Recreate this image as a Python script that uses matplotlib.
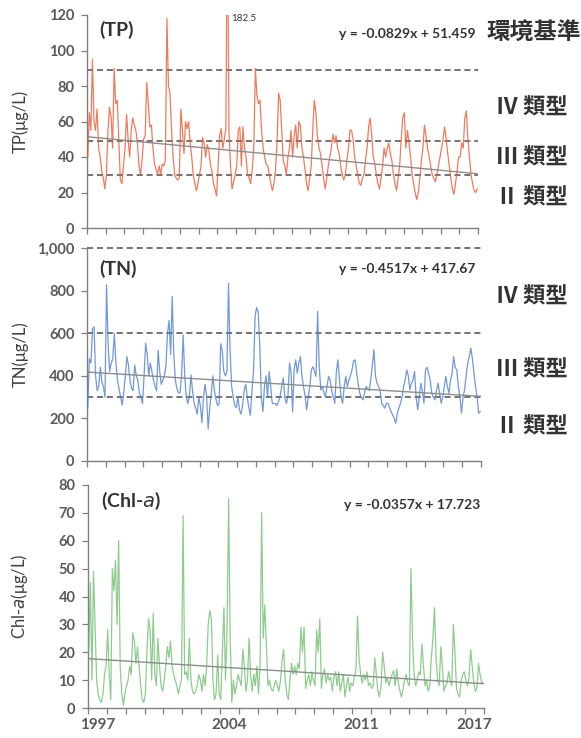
import numpy as np
import matplotlib
matplotlib.use("Agg")
import matplotlib.pyplot as plt

W, H = 581, 738

years = list(range(1997, 2018))

# monthly TP (ug/L), 1997-2017
tp = [
    40, 65, 55, 95, 60, 55, 67, 45, 40, 32, 28, 22,
    30, 55, 68, 63, 45, 90, 70, 72, 50, 27, 25, 35,
    45, 64, 50, 40, 55, 62, 58, 55, 48, 35, 30, 38,
    50, 52, 82, 70, 57, 58, 45, 36, 33, 30, 35, 30,
    36, 35, 38, 118, 80, 76, 55, 40, 30, 28, 27, 28,
    67, 55, 42, 60, 56, 60, 48, 40, 30, 25, 21, 25,
    30, 35, 51, 48, 40, 47, 44, 36, 32, 25, 22, 18,
    35, 52, 56, 45, 50, 56, 182.5, 55, 35, 22, 26, 30,
    35, 55, 57, 35, 57, 45, 40, 30, 28, 25, 33, 45,
    90, 75, 70, 72, 55, 45, 40, 36, 35, 30, 25, 21,
    25, 33, 48, 76, 72, 55, 38, 35, 30, 40, 45, 55,
    40, 52, 58, 45, 60, 58, 45, 40, 33, 25, 21, 28,
    35, 55, 72, 65, 52, 45, 42, 35, 28, 22, 28, 35,
    40, 45, 53, 48, 52, 45, 42, 35, 30, 27, 30, 38,
    45, 55, 55, 50, 40, 35, 30, 25, 24, 28, 30, 38,
    45, 57, 62, 52, 40, 36, 30, 25, 22, 28, 35, 45,
    40, 45, 48, 42, 38, 30, 25, 21, 28, 35, 50, 62,
    65, 45, 55, 48, 40, 30, 25, 20, 16, 20, 28, 38,
    45, 58, 52, 45, 40, 35, 30, 28, 26, 30, 35, 40,
    45, 50, 57, 50, 42, 35, 28, 22, 19, 25, 32, 40,
    40, 48, 45, 62, 66, 50, 40, 30, 25, 21, 20, 22,
]

# monthly TN (ug/L)
tn = [
    250, 480, 460, 620, 630, 400, 330, 350, 440, 370, 350, 300,
    827, 550, 420, 460, 480, 600, 460, 380, 340, 300, 263, 320,
    400, 490, 450, 380, 340, 330, 450, 400, 380, 320, 300, 270,
    400, 553, 500, 400, 460, 420, 380, 350, 330, 520, 420, 360,
    380, 400, 450, 600, 660, 500, 773, 500, 380, 340, 320, 320,
    400, 592, 400, 300, 270, 300, 404, 330, 270, 250, 220, 300,
    260, 180, 300, 360, 300, 150, 250, 320, 400, 330, 290, 260,
    270, 550, 520, 420, 400, 420, 835, 520, 350, 300, 260, 250,
    300, 240, 220, 260, 330, 360, 300, 250, 215, 330, 420, 680,
    720, 700, 540, 300, 232, 350, 400, 300, 420, 350, 270, 270,
    270, 260, 280, 300, 350, 390, 300, 270, 300, 460, 420, 230,
    430, 475, 412, 460, 490, 397, 350, 302, 240, 300, 350, 428,
    443, 420, 397, 702, 450, 334, 350, 320, 302, 350, 397, 380,
    330, 300, 271, 420, 475, 381, 300, 271, 350, 397, 350, 380,
    400, 428, 470, 475, 412, 360, 318, 300, 287, 320, 350, 340,
    330, 381, 450, 522, 400, 365, 350, 330, 271, 260, 248, 271,
    271, 250, 232, 216, 200, 177, 224, 250, 271, 300, 350, 380,
    428, 400, 334, 365, 381, 420, 300, 240, 300, 365, 330, 271,
    428, 440, 412, 380, 318, 300, 287, 330, 365, 320, 271, 300,
    350, 397, 350, 318, 380, 412, 490, 440, 428, 350, 302, 224,
    300, 334, 400, 459, 490, 530, 480, 412, 350, 302, 224, 232,
]

# monthly Chl-a (ug/L)
chl = [
    20, 45, 10, 49, 30, 10, 5, 3, 2, 5, 12, 15,
    28, 12, 3, 50, 42, 53, 30, 60, 15, 5, 1, 5,
    8, 10, 15, 12, 27, 24, 16, 22, 15, 8, 3, 2,
    5, 20, 32, 28, 10, 34, 12, 8, 25, 15, 8, 6,
    10, 15, 22, 18, 24, 15, 12, 10, 8, 5, 8, 10,
    69, 12, 13, 10, 25, 10, 6, 5, 6, 8, 12, 10,
    6, 12, 8, 15, 30, 35, 32, 10, 3, 5, 19, 5,
    3, 20, 36, 10, 28, 75, 25, 2, 10, 5, 8, 12,
    10, 8, 21, 15, 6, 10, 25, 12, 6, 12, 8, 15,
    5, 15, 70, 25, 37, 22, 8, 10, 7, 6, 8, 10,
    8, 6, 10, 17, 21, 10, 5, 3, 10, 16, 12, 15,
    12, 16, 14, 29, 20, 29, 7, 10, 12, 8, 13, 10,
    8, 28, 20, 32, 7, 12, 14, 9, 12, 10, 11, 6,
    11, 13, 8, 13, 6, 9, 12, 4, 8, 11, 6, 9,
    8, 11, 14, 33, 18, 12, 9, 12, 10, 13, 8, 9,
    7, 8, 18, 12, 6, 4, 8, 20, 15, 9, 11, 8,
    10, 12, 13.5, 8, 14, 9, 6, 4, 7, 10, 12, 9,
    8, 50, 25, 12, 8, 10, 13, 12, 23, 15, 8, 10,
    6, 8, 18, 25, 36, 18, 10, 8, 22, 15, 6, 8,
    9, 13, 10, 8, 30, 20, 7, 5, 4, 10, 12, 13,
    10, 8, 11, 21, 15, 9, 6, 7, 16, 12, 9, 9,
]

# trend lines (slope, intercept per month index) and standard lines
tp_trend = (-0.0829, 51.459)
tn_trend = (-0.4517, 417.67)
chl_trend = (-0.0357, 17.723)
tp_std = [30, 49, 89]
tn_std = [300, 600, 1000]

label_years = [1997, 2004, 2011, 2017]

plt.rcParams['font.family'] = ['Lato', 'DejaVu Sans']
GRAY = '#595959'
JP = ['Noto Sans CJK JP', 'DejaVu Sans']

fig = plt.figure(figsize=(W / 100, H / 100), dpi=100)


def px_axes(l, t, r, b):
    ax = fig.add_axes([l / W, 1 - b / H, (r - l) / W, (b - t) / H])
    ax._px_left, ax._px_w = l, r - l
    return ax


def setup(ax, vals, color, trend, ylim, yticks, ylabels, ylab, show_x):
    n = len(vals)
    x = years[0] + (np.arange(n) + 0.5) / 12
    ax.plot(x, vals, color=color, lw=0.9, alpha=0.8, zorder=3)
    k = np.arange(1, n + 1)
    ax.plot(x, trend[0] * k + trend[1], color='#8c8c8c', lw=1.0, zorder=4)
    ax.set_xlim(years[0], years[-1] + 1)
    ax.set_ylim(*ylim)
    ax.set_yticks(yticks)
    ax.set_yticklabels(ylabels, fontsize=10.5, fontweight='bold', color=GRAY)
    ax.set_ylabel(ylab, fontsize=12, color='#404040')
    # ylabel centred about 20 px from the left edge of the figure
    ax.yaxis.set_label_coords((20 - ax._px_left) / ax._px_w, 0.5)
    ax.yaxis.label.set_va('center')
    ax.set_xticks(range(years[0], years[-1] + 2))
    ax.set_xticklabels([])
    if show_x:
        ax.set_xticks([y + 0.5 for y in label_years], minor=True)
        ax.set_xticklabels([str(y) for y in label_years], minor=True,
                           fontsize=11, fontweight='bold', color=GRAY)
    ax.tick_params(axis='x', which='minor', length=0, pad=7)
    ax.tick_params(axis='both', which='major', length=4, width=0.9,
                   color='#7f7f7f', direction='out')
    ax.tick_params(axis='y', pad=5)
    for s in ['top', 'right']:
        ax.spines[s].set_visible(False)
    for s in ['left', 'bottom']:
        ax.spines[s].set_color('#7f7f7f')
        ax.spines[s].set_linewidth(1.0)


# (TP)
ax1 = px_axes(87, 15, 478, 228)
setup(ax1, tp, '#ea5a36', tp_trend, (0, 120), range(0, 121, 20),
      [str(v) for v in range(0, 121, 20)], 'TP(μg/L)', False)
for v in tp_std:
    ax1.axhline(v, color='#4d4d4d', lw=1.1, ls=(0, (4, 2.5)), zorder=2)
ax1.text(0.032, 0.93, '(TP)', transform=ax1.transAxes, fontsize=14,
         fontweight='bold', color='#333333', va='center')
ax1.text(2004.75, 118, '182.5', fontsize=7, color='#333333', va='center')
ax1.text(0.995, 0.91, 'y = -0.0829x + 51.459', transform=ax1.transAxes,
         fontsize=10, fontweight='bold', color='#333333', ha='right', va='center')

# (TN)
ax2 = px_axes(87, 248, 481, 461)
setup(ax2, tn, '#4f7fcc', tn_trend, (0, 1000), range(0, 1001, 200),
      ['0', '200', '400', '600', '800', '1,000'], 'TN(μg/L)', False)
for v in tn_std:
    ax2.axhline(v, color='#4d4d4d', lw=1.1, ls=(0, (4, 2.5)), zorder=2,
                clip_on=False)
ax2.text(0.032, 0.9, '(TN)', transform=ax2.transAxes, fontsize=14,
         fontweight='bold', color='#333333', va='center')
ax2.text(0.985, 0.9, 'y = -0.4517x + 417.67', transform=ax2.transAxes,
         fontsize=10, fontweight='bold', color='#333333', ha='right', va='center')

# (Chl-a)
ax3 = px_axes(88, 485, 484, 708)
setup(ax3, chl, '#72c072', chl_trend, (0, 80), range(0, 81, 10),
      [str(v) for v in range(0, 81, 10)], r'Chl-$\it{a}$(μg/L)', True)
ax3.text(0.032, 0.93, r'(Chl-$\it{a}$)', transform=ax3.transAxes, fontsize=14,
         fontweight='bold', color='#333333', va='center')
ax3.text(0.99, 0.91, 'y = -0.0357x + 17.723', transform=ax3.transAxes,
         fontsize=10, fontweight='bold', color='#333333', ha='right', va='center')


def ftext(x, y, s, **kw):
    fig.text(x / W, 1 - y / H, s, family=JP, fontweight='bold',
             color='#333333', va='center', **kw)


ftext(486, 32, '環境基準', fontsize=17)
for y, s in [(108, 'Ⅳ 類型'), (158, 'Ⅲ 類型'), (198, 'Ⅱ 類型'),
             (297, 'Ⅳ 類型'), (370, 'Ⅲ 類型'), (427, 'Ⅱ 類型')]:
    ftext(496, y, s, fontsize=16)

fig.savefig('out.png', dpi=100)
